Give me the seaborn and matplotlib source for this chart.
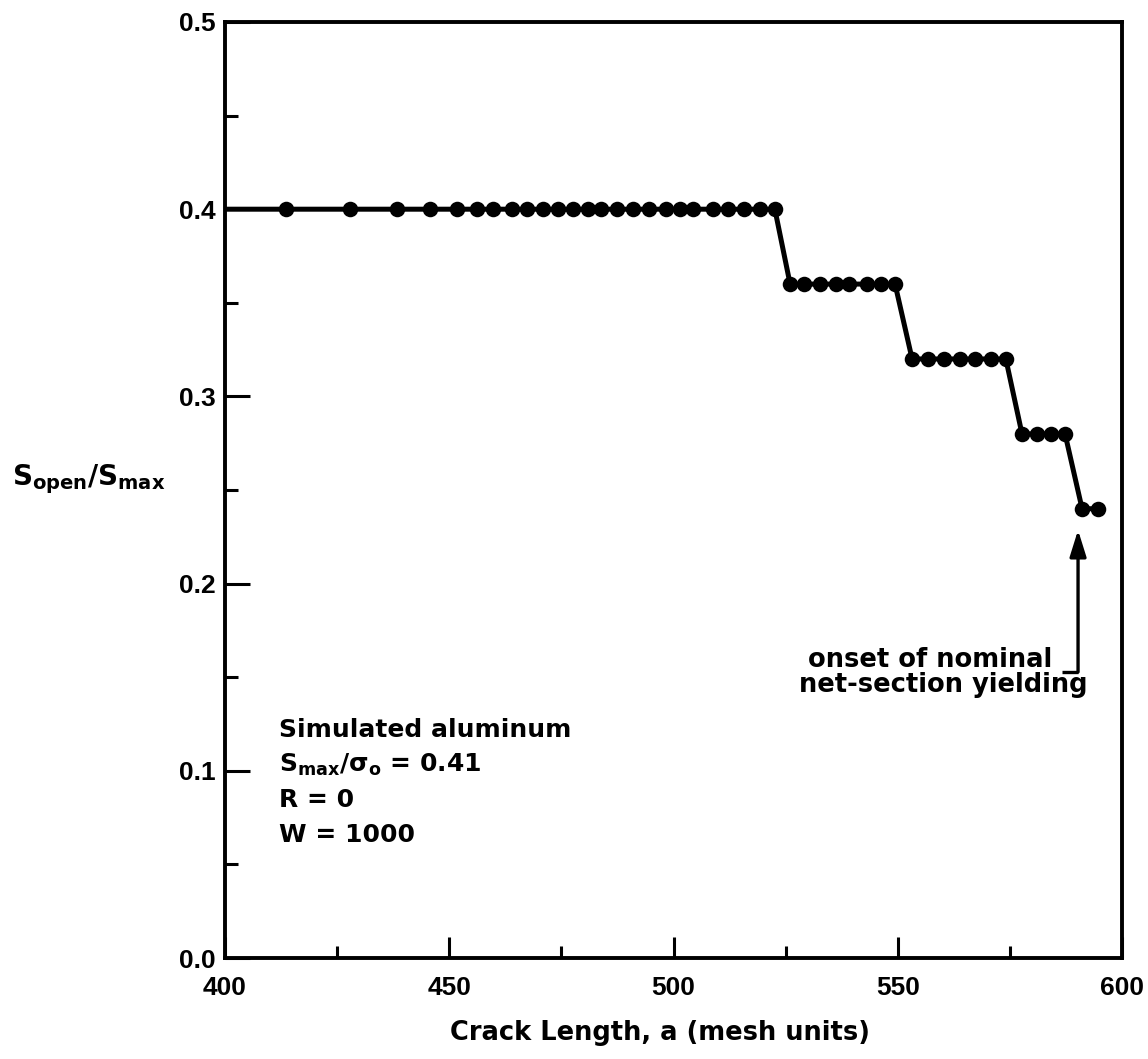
import matplotlib
matplotlib.use("Agg")
import matplotlib.pyplot as plt
import seaborn as sns
import pandas as pd
from matplotlib.ticker import MultipleLocator, FormatStrFormatter

# Crack-opening stress ratio from the simulated aluminum crack-growth run
crack_length = [413.6, 427.9, 438.4, 445.7, 451.7, 456.2, 459.8, 464.0, 467.3,
                470.9, 474.2, 477.6, 480.9, 483.8, 487.4, 491.0, 494.5, 498.3,
                501.4, 504.3, 508.8, 512.2, 515.7, 519.3, 522.6,
                526.0, 529.1, 532.7, 536.3, 539.1, 543.1, 546.3, 549.4,
                553.2, 556.7, 560.3, 563.9, 567.2, 570.8, 574.1,
                577.7, 581.0, 584.2, 587.3,
                591.1, 594.6]
open_ratio = [0.40, 0.40, 0.40, 0.40, 0.40, 0.40, 0.40, 0.40, 0.40,
              0.40, 0.40, 0.40, 0.40, 0.40, 0.40, 0.40, 0.40, 0.40,
              0.40, 0.40, 0.40, 0.40, 0.40, 0.40, 0.40,
              0.36, 0.36, 0.36, 0.36, 0.36, 0.36, 0.36, 0.36,
              0.32, 0.32, 0.32, 0.32, 0.32, 0.32, 0.32,
              0.28, 0.28, 0.28, 0.28,
              0.24, 0.24]
# the curve is drawn from the initial crack length, left of the first point
curve_start_length = 400.0
curve_start_ratio = 0.40

case_lines = ["Simulated aluminum",
              r"$\mathbf{S_{max}/σ_{o}}$ = 0.41",
              "R = 0",
              "W = 1000"]
note_lines = ["onset of nominal", "net-section yielding"]
yield_length = 590.2

sns.set_style("ticks")
plt.rcParams["font.family"] = ["Liberation Sans", "DejaVu Sans"]
plt.rcParams["font.weight"] = "bold"
plt.rcParams["text.color"] = "black"
plt.rcParams["axes.labelcolor"] = "black"
plt.rcParams["mathtext.fontset"] = "custom"
plt.rcParams["mathtext.rm"] = "DejaVu Sans:bold"
plt.rcParams["mathtext.bf"] = "DejaVu Sans:bold"
plt.rcParams["mathtext.it"] = "DejaVu Sans:bold"

WIDE = ["DejaVu Sans"]

W, H = 1148, 1059
fig = plt.figure(figsize=(W / 100, H / 100), dpi=100)
ax = fig.add_axes([225 / W, 1 - 958 / H, 897 / W, 936 / H])

curve = pd.DataFrame({"a": [curve_start_length] + crack_length,
                      "s": [curve_start_ratio] + open_ratio})
points = pd.DataFrame({"a": crack_length, "s": open_ratio})

sns.lineplot(data=curve, x="a", y="s", sort=False, color="black",
             linewidth=3.6, ax=ax, estimator=None)
sns.scatterplot(data=points, x="a", y="s", color="black", s=125,
                edgecolor="black", linewidth=0, ax=ax, zorder=3)

ax.set_xlim(400, 600)
ax.set_ylim(0.0, 0.5)
ax.xaxis.set_major_locator(MultipleLocator(50))
ax.xaxis.set_minor_locator(MultipleLocator(25))
ax.yaxis.set_major_locator(MultipleLocator(0.1))
ax.yaxis.set_minor_locator(MultipleLocator(0.05))
ax.yaxis.set_major_formatter(FormatStrFormatter("%.1f"))

for side in ["left", "right", "top", "bottom"]:
    ax.spines[side].set_visible(True)
    ax.spines[side].set_linewidth(2.8)
    ax.spines[side].set_color("black")

ax.tick_params(axis="both", which="both", direction="in", color="black",
               width=2.2, labelsize=19, labelcolor="black")
ax.tick_params(axis="x", which="major", length=15, pad=13)
ax.tick_params(axis="x", which="minor", length=9)
ax.tick_params(axis="y", which="major", length=18, pad=7)
ax.tick_params(axis="y", which="minor", length=9)
for lab in ax.get_xticklabels() + ax.get_yticklabels():
    lab.set_fontweight("bold")

ax.set_xlabel("Crack Length, a (mesh units)", fontsize=18.5,
              fontweight="bold", family=WIDE)
ax.xaxis.set_label_coords(0.485, -0.066)
ax.set_ylabel(r"$\mathbf{S_{open}/S_{max}}$", fontsize=20, rotation=0,
              ha="center", va="center")
ax.yaxis.set_label_coords(-0.152, 0.512)

# test-case description, lower left
case_y = [0.118, 0.0995, 0.0808, 0.062]
for txt, yy in zip(case_lines, case_y):
    ax.text(412.0, yy, txt, fontsize=18, fontweight="bold", family=WIDE,
            ha="left", va="baseline")

# yielding note with hooked arrow up to the point where yielding begins
ax.text(584.4, 0.1554, note_lines[0], fontsize=18.5, fontweight="bold",
        family=WIDE, ha="right", va="baseline")
ax.text(592.4, 0.1420, note_lines[1], fontsize=18.5, fontweight="bold",
        family=WIDE, ha="right", va="baseline")
ax.plot([586.6, yield_length], [0.1528, 0.1528], color="black", lw=2.4,
        solid_capstyle="butt")
ax.annotate("", xy=(yield_length, 0.2286), xytext=(yield_length, 0.1528),
            arrowprops=dict(arrowstyle="-|>,head_length=16,head_width=5",
                            mutation_scale=1, color="black", lw=2.4,
                            shrinkA=0, shrinkB=0))

fig.savefig("out.png", dpi=100, facecolor="white")
